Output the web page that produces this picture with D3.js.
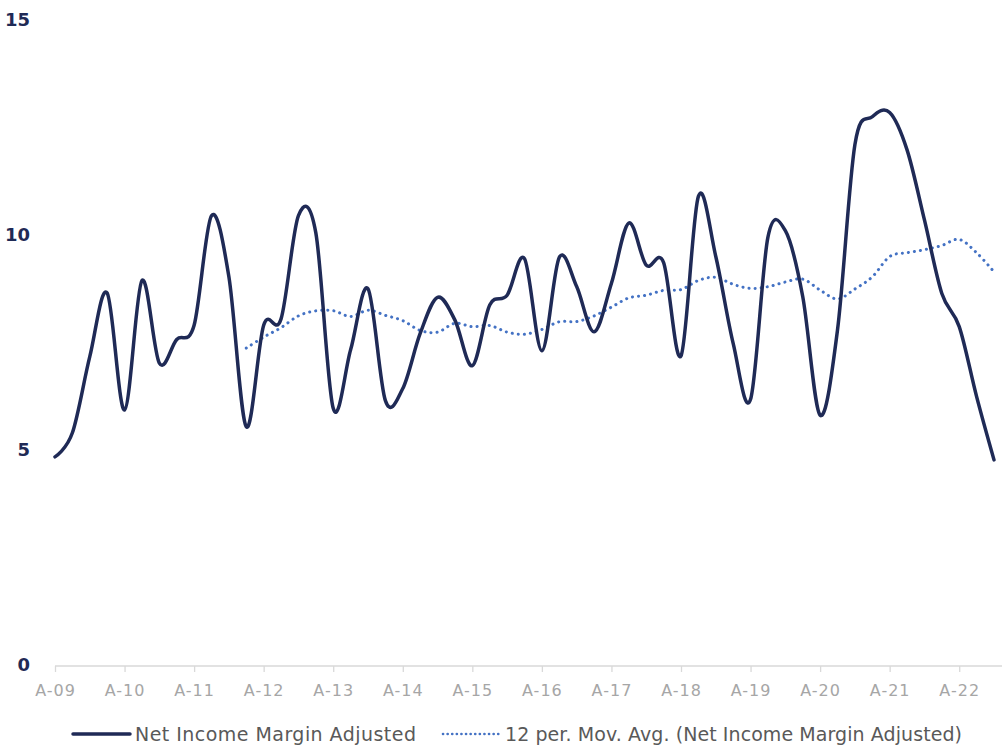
<!DOCTYPE html>
<html>
<head>
<meta charset="utf-8">
<script src="https://cdn.jsdelivr.net/npm/d3@7"></script>
<style>
  html, body { margin: 0; padding: 0; background: #ffffff; }
  svg { display: block; }
</style>
</head>
<body>
<svg id="chart" width="1002" height="747"></svg>
<script>
// Quarterly net income margin (adjusted), %, first quarter of 2009 onward
const netIncomeMargin = [
  4.84, 5.40, 7.17, 8.65, 5.93, 8.94, 7.02, 7.57,
  7.90, 10.45, 9.03, 5.54, 7.90, 8.05, 10.45, 10.05,
  5.97, 7.33, 8.75, 6.15, 6.43, 7.71, 8.55, 8.02,
  6.96, 8.37, 8.60, 9.45, 7.31, 9.48, 8.80, 7.75,
  8.88, 10.28, 9.30, 9.36, 7.19, 10.90, 9.50, 7.48,
  6.18, 9.95, 10.10, 8.57, 5.81, 7.79, 12.10, 12.75,
  12.85, 11.98, 10.35, 8.64, 7.87, 6.24, 4.77
];

// One labelled tick per year (every 4th quarter)
const tickLabels = ["A-09", "A-10", "A-11", "A-12", "A-13", "A-14", "A-15",
                    "A-16", "A-17", "A-18", "A-19", "A-20", "A-21", "A-22"];
const yTicks = [0, 5, 10, 15];
const seriesNames = ["Net Income Margin Adjusted",
                     "12 per. Mov. Avg. (Net Income Margin Adjusted)"];
const windowSize = 12;

// Trailing moving average over the previous 12 periods
const movingAvg = netIncomeMargin.map((v, i) =>
  i < windowSize - 1 ? null : d3.mean(netIncomeMargin.slice(i - windowSize + 1, i + 1)));

const svg = d3.select("#chart");
const navy = "#1f2a56";
const blue = "#4472c4";
const font = "'DejaVu Sans', sans-serif";

const x = d3.scaleLinear().domain([0, netIncomeMargin.length - 1]).range([55, 994]);
const y = d3.scaleLinear().domain([0, 15]).range([665, 20]);

// X axis: baseline, year ticks and labels
const xAxis = d3.axisBottom(x)
  .tickValues(tickLabels.map((_, k) => k * 4))
  .tickFormat((d) => tickLabels[d / 4])
  .tickSizeInner(6)
  .tickSizeOuter(0)
  .tickPadding(13);

const gx = svg.append("g")
  .attr("transform", "translate(0,666)")
  .call(xAxis);
gx.select(".domain").remove();
gx.insert("line", ":first-child")
  .attr("x1", 55).attr("x2", 1002)
  .attr("stroke", "#d9d9d9").attr("stroke-width", 1.3);
gx.selectAll(".tick line").attr("stroke", "#d9d9d9").attr("stroke-width", 1.3);
gx.selectAll(".tick text")
  .attr("fill", "#a6a6a6")
  .style("font-family", font)
  .style("font-size", "16px")
  .style("letter-spacing", "1px");

// Y axis labels only
const yAxis = d3.axisLeft(y).tickValues(yTicks).tickSize(0).tickPadding(0);
const gy = svg.append("g")
  .attr("transform", "translate(30,0)")
  .call(yAxis);
gy.select(".domain").remove();
gy.selectAll(".tick text")
  .attr("fill", navy)
  .style("font-family", font)
  .style("font-size", "18px")
  .style("font-weight", "bold");

// Series lines
const line = d3.line()
  .defined((d) => d != null)
  .x((d, i) => x(i))
  .y((d) => y(d))
  .curve(d3.curveCardinal.tension(0));

svg.append("path")
  .datum(movingAvg)
  .attr("fill", "none")
  .attr("stroke", blue)
  .attr("stroke-width", 3)
  .attr("stroke-linecap", "round")
  .attr("stroke-dasharray", "0.1 6")
  .attr("d", line);

svg.append("path")
  .datum(netIncomeMargin)
  .attr("fill", "none")
  .attr("stroke", navy)
  .attr("stroke-width", 3.5)
  .attr("stroke-linejoin", "round")
  .attr("stroke-linecap", "round")
  .attr("d", line);

// Legend
const legend = svg.append("g").attr("transform", "translate(0,734)");
const legendItems = [
  { name: seriesNames[0], x0: 73, color: navy, dash: null, width: 3.5, textX: 135, len: 281 },
  { name: seriesNames[1], x0: 443, color: blue, dash: "0.1 4.5", width: 2.6, textX: 505, len: 457 }
];
legendItems.forEach((it) => {
  legend.append("line")
    .attr("x1", it.x0).attr("x2", it.x0 + 57)
    .attr("y1", 0).attr("y2", 0)
    .attr("stroke", it.color)
    .attr("stroke-width", it.width)
    .attr("stroke-linecap", "round")
    .attr("stroke-dasharray", it.dash);
  legend.append("text")
    .attr("x", it.textX)
    .attr("y", 0)
    .attr("dy", "0.36em")
    .attr("fill", "#595959")
    .attr("textLength", it.len)
    .attr("lengthAdjust", "spacing")
    .style("font-family", font)
    .style("font-size", "19px")
    .text(it.name);
});
</script>
</body>
</html>
